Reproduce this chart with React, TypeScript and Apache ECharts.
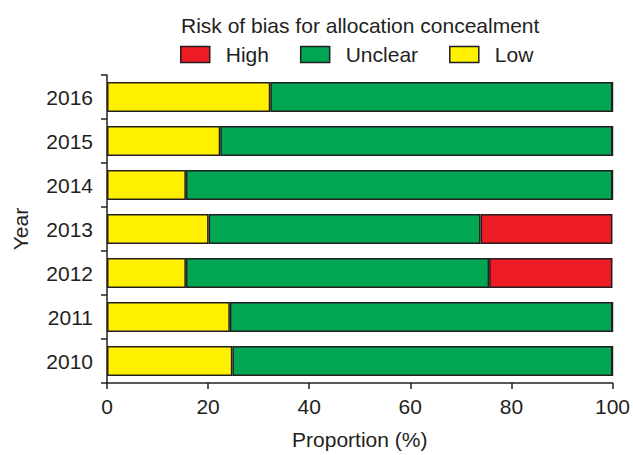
import React, { useEffect, useRef } from "react";
import * as echarts from "echarts";

const years = ["2010", "2011", "2012", "2013", "2014", "2015", "2016"];
const lowValues = [24.8, 24.3, 15.6, 20.1, 15.6, 22.4, 32.3];
const unclearValues = [75.2, 75.7, 60.0, 53.8, 84.4, 77.6, 67.7];
const highValues = [0, 0, 24.4, 26.1, 0, 0, 0];
const xTicks = [0, 20, 40, 60, 80, 100];

const FONT = "Liberation Sans, Arial, Helvetica, sans-serif";
const TEXT = "#231F20";
const BORDER = "#231F20";
const FS = 21;

export default function App() {
  const ref = useRef<HTMLDivElement>(null);
  useEffect(() => {
    document.body.style.margin = "0";
    if (!ref.current) return;
    const chart = echarts.init(ref.current, undefined, { renderer: "svg" });
    const itemStyle = (color: string) => ({ color, borderColor: BORDER, borderWidth: 1.5 });
    chart.setOption({
      animation: false,
      textStyle: { fontFamily: FONT, color: TEXT },
      title: {
        text: "Risk of bias for allocation concealment",
        left: 176,
        top: 10,
        textStyle: { fontFamily: FONT, fontSize: FS, fontWeight: "normal", color: TEXT },
      },
      legend: {
        data: ["High", "Unclear", "Low"],
        top: 39,
        left: 175,
        itemWidth: 29,
        itemHeight: 16,
        itemGap: 31,
        icon: "rect",
        itemStyle: { borderColor: BORDER, borderWidth: 1.5 },
        textStyle: { fontFamily: FONT, fontSize: FS, color: TEXT, padding: [0, 0, 0, 11] },
      },
      grid: { left: 107, right: 17, top: 75, bottom: 72, containLabel: false },
      xAxis: {
        type: "value",
        min: xTicks[0],
        max: xTicks[xTicks.length - 1],
        interval: 20,
        name: "Proportion (%)",
        nameLocation: "middle",
        nameGap: 46,
        nameTextStyle: { fontFamily: FONT, fontSize: FS, color: TEXT },
        axisLine: { show: true, lineStyle: { color: BORDER, width: 1.5 } },
        axisTick: { show: true, length: 6, lineStyle: { color: BORDER, width: 1.5 } },
        axisLabel: { fontFamily: FONT, fontSize: FS, color: TEXT, margin: 13 },
        splitLine: { show: false },
      },
      yAxis: {
        type: "category",
        data: years,
        name: "Year",
        nameLocation: "middle",
        nameRotate: 90,
        nameGap: 76,
        nameTextStyle: { fontFamily: FONT, fontSize: FS, color: TEXT },
        axisLine: { show: true, lineStyle: { color: BORDER, width: 1.5 } },
        axisTick: { show: true, length: 6, interval: 0, lineStyle: { color: BORDER, width: 1.5 } },
        axisLabel: { fontFamily: FONT, fontSize: FS, color: TEXT, margin: 14 },
      },
      series: [
        { name: "Low", type: "bar", stack: "t", data: lowValues, barCategoryGap: "32%", itemStyle: itemStyle("#FFF100") },
        { name: "Unclear", type: "bar", stack: "t", data: unclearValues, itemStyle: itemStyle("#00A651") },
        { name: "High", type: "bar", stack: "t", data: highValues, itemStyle: itemStyle("#ED1C24") },
      ],
    });
    return () => chart.dispose();
  }, []);
  return <div ref={ref} style={{ width: 633, height: 455 }} />;
}
